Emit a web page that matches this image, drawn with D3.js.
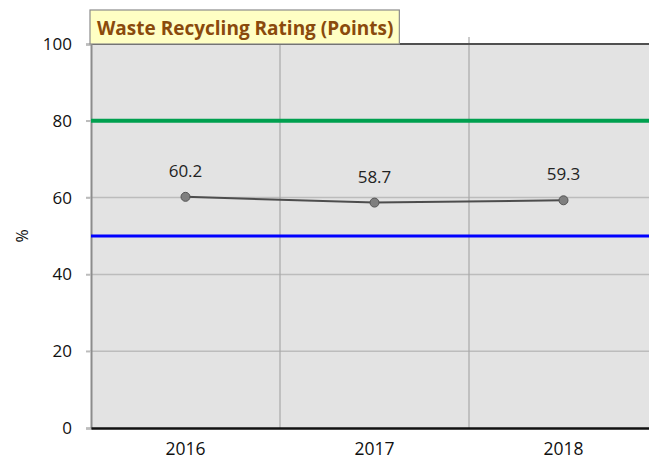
<!DOCTYPE html>
<html>
<head>
<meta charset="utf-8">
<script src="https://cdn.jsdelivr.net/npm/d3@7"></script>
<style>
  body { margin: 0; background: #fff; }
  svg { display: block; font-family: "Open Sans", sans-serif; }
</style>
</head>
<body>
<div id="chart"></div>
<script>
// chart data
var years = ["2016", "2017", "2018"];
var rating = [60.2, 58.7, 59.3];
var yTicks = [0, 20, 40, 60, 80, 100];
var targetLines = [80, 50];
var targetColors = ["#00a04f", "#0000ff"];
var title = "Waste Recycling Rating (Points)";

var margin = {top: 44, right: -9, bottom: 35, left: 91},
    width = 649 - margin.left - margin.right,
    height = 463 - margin.top - margin.bottom;

var svg = d3.select("#chart")
  .append("svg")
  .attr("width", 649)
  .attr("height", 463)
  .append("g")
  .attr("transform", "translate(" + margin.left + "," + margin.top + ")");

var x = d3.scaleBand()
  .domain(years)
  .range([0, width]);

var y = d3.scaleLinear()
  .domain([0, 100])
  .range([height, 0]);

// plot background
svg.append("rect")
  .attr("width", width)
  .attr("height", height)
  .attr("fill", "#e3e3e3");

// horizontal gridlines
svg.append("g")
  .selectAll("line")
  .data(yTicks.slice(1, -1))
  .enter()
  .append("line")
  .attr("x1", -5)
  .attr("x2", width)
  .attr("y1", function(d) { return y(d); })
  .attr("y2", function(d) { return y(d); })
  .attr("stroke", "#bcbcbc")
  .attr("stroke-width", 1.5);

// vertical gridlines between categories
svg.append("g")
  .selectAll("line")
  .data(years.slice(1))
  .enter()
  .append("line")
  .attr("x1", function(d) { return x(d); })
  .attr("x2", function(d) { return x(d); })
  .attr("y1", -7)
  .attr("y2", height)
  .attr("stroke", "#a8a8a8")
  .attr("stroke-width", 1.2);

// top border
svg.append("line")
  .attr("x1", 0).attr("x2", width)
  .attr("y1", 0).attr("y2", 0)
  .attr("stroke", "#505050")
  .attr("stroke-width", 2);

// y axis
var yAxis = svg.append("g")
  .call(d3.axisLeft(y).tickValues(yTicks).tickSize(5).tickPadding(14));
yAxis.select(".domain").attr("stroke", "#8c8c8c").attr("stroke-width", 2);
yAxis.selectAll(".tick line").attr("stroke", "#bcbcbc").attr("stroke-width", 1.5);
yAxis.selectAll("text")
  .attr("font-size", 17)
  .attr("fill", "#111")
  .attr("font-family", "Open Sans, sans-serif");

// x axis
var xAxis = svg.append("g")
  .attr("transform", "translate(0," + height + ")")
  .call(d3.axisBottom(x).tickSize(0).tickPadding(15));
xAxis.select(".domain").attr("stroke", "#111").attr("stroke-width", 2.5);
xAxis.selectAll("text")
  .attr("font-size", 17.5)
  .attr("fill", "#111")
  .attr("font-family", "Open Sans, sans-serif");

// y axis title
svg.append("text")
  .attr("transform", "translate(-63," + y(50) + ") rotate(-90)")
  .attr("text-anchor", "middle")
  .attr("font-size", 16)
  .attr("fill", "#111")
  .text("%");

// target lines
svg.append("g")
  .selectAll("line")
  .data(targetLines)
  .enter()
  .append("line")
  .attr("x1", 0)
  .attr("x2", width)
  .attr("y1", function(d) { return y(d); })
  .attr("y2", function(d) { return y(d); })
  .attr("stroke", function(d, i) { return targetColors[i]; })
  .attr("stroke-width", function(d, i) { return i == 0 ? 4 : 3; });

// rating line
var line = d3.line()
  .x(function(d, i) { return x(years[i]) + x.bandwidth() / 2; })
  .y(function(d) { return y(d); });

svg.append("path")
  .datum(rating)
  .attr("d", line)
  .attr("fill", "none")
  .attr("stroke", "#4d4d4d")
  .attr("stroke-width", 2);

svg.append("g")
  .selectAll("circle")
  .data(rating)
  .enter()
  .append("circle")
  .attr("cx", function(d, i) { return x(years[i]) + x.bandwidth() / 2; })
  .attr("cy", function(d) { return y(d); })
  .attr("r", 4.5)
  .attr("fill", "#7f7f7f")
  .attr("stroke", "#555")
  .attr("stroke-width", 1);

svg.append("g")
  .selectAll("text")
  .data(rating)
  .enter()
  .append("text")
  .attr("x", function(d, i) { return x(years[i]) + x.bandwidth() / 2; })
  .attr("y", function(d) { return y(d) - 20; })
  .attr("text-anchor", "middle")
  .attr("font-size", 17)
  .attr("fill", "#222")
  .text(function(d) { return d.toFixed(1); });

// title box
var titleG = svg.append("g").attr("transform", "translate(0,-34)");
var titleText = titleG.append("text")
  .attr("x", 6)
  .attr("y", 25)
  .attr("font-size", 19)
  .attr("font-weight", "bold")
  .attr("fill", "#8a4a0c")
  .text(title);
var tw = titleText.node().getComputedTextLength();
titleG.insert("rect", "text")
  .attr("x", -1)
  .attr("y", 0)
  .attr("width", tw + 13)
  .attr("height", 34)
  .attr("fill", "#ffffc4")
  .attr("stroke", "#8c8c8c")
  .attr("stroke-width", 1.2);
</script>
</body>
</html>
